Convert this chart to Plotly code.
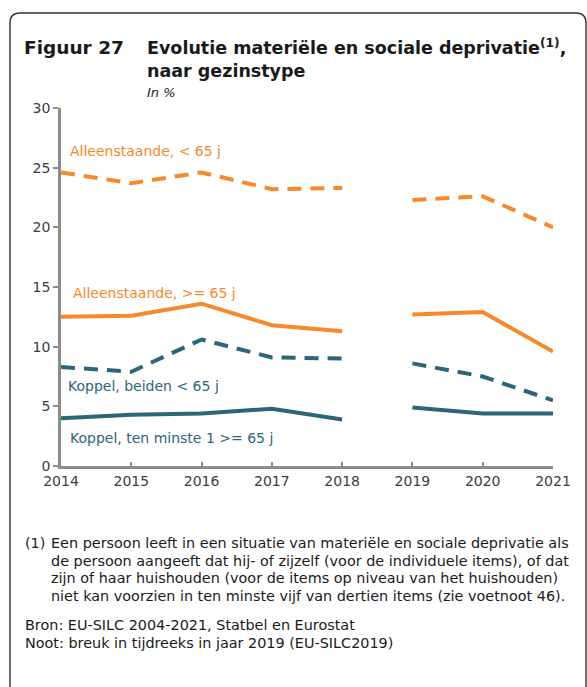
import plotly.graph_objects as go

# Material and social deprivation by household type, in %
years = ["2014", "2015", "2016", "2017", "2018", "2019", "2020", "2021"]
single_under65 = [24.6, 23.7, 24.6, 23.2, 23.3, 22.3, 22.6, 20.0]
single_65plus = [12.5, 12.6, 13.6, 11.8, 11.3, 12.7, 12.9, 9.6]
couple_both_under65 = [8.3, 7.9, 10.6, 9.1, 9.0, 8.6, 7.5, 5.5]
couple_one_65plus = [4.0, 4.3, 4.4, 4.8, 3.9, 4.9, 4.4, 4.4]
y_ticks = [0, 5, 10, 15, 20, 25, 30]
break_after = "2018"  # series break in 2019 (EU-SILC2019)

ORANGE = "#F5892C"
TEAL = "#2D6579"
AXIS = "#8C8C8C"
TXT = "#3C3C3C"
FONT = "DejaVu Sans"

W, H = 587, 687
L, R, T, B = 61, 553, 108, 466  # plot area in pixels


def px(x):
    return (x - L) / (R - L)


def py(y):
    return (B - y) / (B - T)


x_idx = list(range(len(years)))


def xy(vals):
    """Positions and values with a gap at the series break."""
    i = years.index(break_after) + 1
    xs = x_idx[:i] + [None] + x_idx[i:]
    ys = vals[:i] + [None] + vals[i:]
    return xs, ys


fig = go.Figure()
series = [
    (single_under65, ORANGE, "14px,9px"),
    (single_65plus, ORANGE, "solid"),
    (couple_both_under65, TEAL, "14px,9px"),
    (couple_one_65plus, TEAL, "solid"),
]
for vals, col, dash in series:
    xs, ys = xy(vals)
    fig.add_trace(go.Scatter(
        x=xs, y=ys, mode="lines", connectgaps=False,
        line=dict(color=col, width=4, dash=dash),
        showlegend=False, hoverinfo="skip",
    ))

fig.update_xaxes(
    range=[0, len(years) - 1], tickvals=x_idx, ticktext=years,
    showgrid=False, zeroline=False, showline=True, linecolor=AXIS, linewidth=2.5,
    ticks="inside", ticklen=4, tickcolor=AXIS, tickwidth=2,
    tickfont=dict(family=FONT, size=14, color=TXT),
)
fig.update_yaxes(
    range=[0, 30], tickvals=y_ticks,
    showgrid=False, zeroline=False, showline=True, linecolor=AXIS, linewidth=2.5,
    ticks="outside", ticklen=5, tickcolor=AXIS, tickwidth=2,
    tickfont=dict(family=FONT, size=14, color=TXT),
)

ann = []


def text(x, y, s, size=13, color="#1a1a1a", anchor="left", **kw):
    ann.append(dict(x=px(x), y=py(y), xref="paper", yref="paper", text=s,
                    showarrow=False, xanchor=anchor, yanchor="middle",
                    font=dict(family=FONT, size=size, color=color), **kw))


# heading
text(22, 47, "<b>Figuur 27</b>", size=18.5)
text(145, 47, "<b>Evolutie materiële en sociale deprivatie<sup>(1)</sup>,</b>", size=17.5)
text(145, 71, "<b>naar gezinstype</b>", size=17.5)
text(145, 92, "<i>In %</i>", size=13)

# series labels
text(68, 151, "Alleenstaande, < 65 j", size=14, color=ORANGE)
text(71, 293, "Alleenstaande, >= 65 j", size=14, color=ORANGE)
text(66, 386, "Koppel, beiden < 65 j", size=14, color=TEAL)
text(68, 438, "Koppel, ten minste 1 >= 65 j", size=14, color=TEAL)

# footnotes
FN = 14.4
fn = [
    "Een persoon leeft in een situatie van materiële en sociale deprivatie als",
    "de persoon aangeeft dat hij- of zijzelf (voor de individuele items), of dat",
    "zijn of haar huishouden (voor de items op niveau van het huishouden)",
    "niet kan voorzien in ten minste vijf van dertien items (zie voetnoot 46).",
]
text(23, 543, "(1)", size=FN)
for k, line in enumerate(fn):
    text(49, 543 + k * 17.6, line, size=FN)
text(23, 625, "Bron: EU-SILC 2004-2021, Statbel en Eurostat", size=FN)
text(23, 643, "Noot: breuk in tijdreeks in jaar 2019 (EU-SILC2019)", size=FN)

# rounded frame around the figure
fx0, fy0, fx1, fy1, rr = 10, 13, 586, 690, 10
frame = (f"M {px(fx0)},{py(fy1)} L {px(fx0)},{py(fy0 + rr)} "
         f"Q {px(fx0)},{py(fy0)} {px(fx0 + rr)},{py(fy0)} "
         f"L {px(fx1 - rr)},{py(fy0)} Q {px(fx1)},{py(fy0)} {px(fx1)},{py(fy0 + rr)} "
         f"L {px(fx1)},{py(fy1)}")

fig.update_layout(
    width=W, height=H,
    margin=dict(l=L, r=W - R, t=T, b=H - B),
    paper_bgcolor="white", plot_bgcolor="white",
    annotations=ann,
    shapes=[dict(type="path", path=frame, xref="paper", yref="paper",
                 line=dict(color="#333333", width=1.4), layer="above")],
)

fig.write_html("out.html")
